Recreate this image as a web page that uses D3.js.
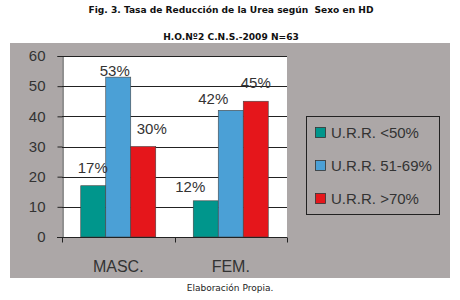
<!DOCTYPE html>
<html><head><meta charset="utf-8">
<script src="https://cdn.jsdelivr.net/npm/d3@7"></script>
<style>body{margin:0;background:#fff}svg{display:block}text{white-space:pre}</style>
</head><body>
<svg id="c" width="460" height="300"></svg>
<script>
const categories = ["MASC.", "FEM."];
const seriesNames = ["U.R.R. <50%", "U.R.R. 51-69%", "U.R.R. >70%"];
const urrLow = [17, 12];
const urrMid = [53, 42];
const urrHigh = [30, 45];
const yTicks = [0, 10, 20, 30, 40, 50, 60];
const colors = ["#00968c", "#4ba0d6", "#e5161b"];
// label placement tweaks (layout only)
const labelDx = [[-0.5, -3.5, 8.5], [-15.5, -17.5, 0]];
const labelDy = [[-12.4, -1.4, -12.5], [-9, -6, -13.5]];

const series = [urrLow, urrMid, urrHigh];
const svg = d3.select("#c");
const font = "'Liberation Sans', Arial, sans-serif";
const vfont = "'DejaVu Sans', Verdana, sans-serif";

svg.append("text").attr("x", 231).attr("y", 13).attr("text-anchor", "middle")
  .attr("font-family", vfont).attr("font-weight", "bold")
  .attr("font-size", 9.1).attr("fill", "#111")
  .text("Fig. 3. Tasa de Reducción de la Urea según  Sexo en HD");
svg.append("text").attr("x", 231).attr("y", 39.5).attr("text-anchor", "middle")
  .attr("font-family", vfont).attr("font-weight", "bold")
  .attr("font-size", 9.1).attr("fill", "#111")
  .text("H.O.Nº2 C.N.S.-2009 N=63");

svg.append("rect").attr("x", 10).attr("y", 43).attr("width", 440).attr("height", 235).attr("fill", "#aca7a7");

const x0 = d3.scaleBand().domain(categories).range([62, 287]).paddingInner(0).paddingOuter(0);
const x1 = d3.scaleBand().domain(d3.range(series.length)).range([0, x0.bandwidth()]).paddingInner(0).paddingOuter(0.75);
const y = d3.scaleLinear().domain([0, 60]).range([237, 56]);

svg.append("rect").attr("x", 62).attr("y", 56).attr("width", 225).attr("height", 181).attr("fill", "#fff");

// gridlines
svg.append("g").selectAll("line").data(yTicks.filter(d => d > 0)).join("line")
  .attr("x1", 62).attr("x2", 287).attr("y1", d => Math.round(y(d)) + 0.5).attr("y2", d => Math.round(y(d)) + 0.5)
  .attr("stroke", "#222").attr("stroke-width", 1);

// bars
categories.forEach((c, ci) => {
  const g = svg.append("g");
  const rows = series.map((s, si) => ({si, v: s[ci]}));
  g.selectAll("rect").data(rows).join("rect")
    .attr("x", d => x0(c) + x1(d.si)).attr("width", x1.bandwidth())
    .attr("y", d => y(d.v)).attr("height", d => y(0) - y(d.v))
    .attr("fill", d => colors[d.si]).attr("stroke", "#444").attr("stroke-width", 0.6);
  g.selectAll("text").data(rows).join("text")
    .attr("x", d => x0(c) + x1(d.si) + x1.bandwidth() / 2 + labelDx[ci][d.si])
    .attr("y", d => y(d.v) + labelDy[ci][d.si]).attr("text-anchor", "middle")
    .attr("font-family", font).attr("font-size", 15).attr("fill", "#333")
    .text(d => d.v + "%");
});

// y axis
const yAxis = d3.axisLeft(y).tickValues(yTicks).tickSize(5).tickPadding(12);
const ya = svg.append("g").attr("transform", "translate(62.5,0)").call(yAxis);
ya.select(".domain").attr("stroke", "#222");
ya.selectAll(".tick line").attr("stroke", "#222");
ya.selectAll(".tick text").attr("font-family", font).attr("font-size", 15).attr("fill", "#333");

// x axis
const xa = svg.append("g").attr("transform", "translate(0,237.5)");
xa.append("line").attr("x1", 57).attr("x2", 287).attr("stroke", "#222");
xa.selectAll("line.t").data([62, ...categories.map(c => x0(c) + x0.bandwidth())]).join("line")
  .attr("class", "t").attr("x1", d => Math.round(d) + 0.5).attr("x2", d => Math.round(d) + 0.5).attr("y1", 0).attr("y2", 5).attr("stroke", "#222");
xa.selectAll("text").data(categories).join("text")
  .attr("x", d => x0(d) + x0.bandwidth() / 2).attr("y", 34).attr("text-anchor", "middle")
  .attr("font-family", font).attr("font-size", 16).attr("fill", "#333").text(d => d);

// legend
const lg = svg.append("g");
lg.append("rect").attr("x", 306.5).attr("y", 116.5).attr("width", 133).attr("height", 98)
  .attr("fill", "none").attr("stroke", "#222");
seriesNames.forEach((n, i) => {
  const cy = 133 + i * 33;
  lg.append("rect").attr("x", 315.5).attr("y", cy - 5.5).attr("width", 10).attr("height", 10)
    .attr("fill", colors[i]).attr("stroke", "#333").attr("stroke-width", 0.8);
  lg.append("text").attr("x", 331).attr("y", cy + 5).attr("font-family", font).attr("font-size", 15)
    .attr("fill", "#333").text(n);
});

svg.append("text").attr("x", 230).attr("y", 290.5).attr("text-anchor", "middle")
  .attr("font-family", vfont).attr("font-size", 9).attr("fill", "#222")
  .text("Elaboración Propia.");
</script>
</body></html>
